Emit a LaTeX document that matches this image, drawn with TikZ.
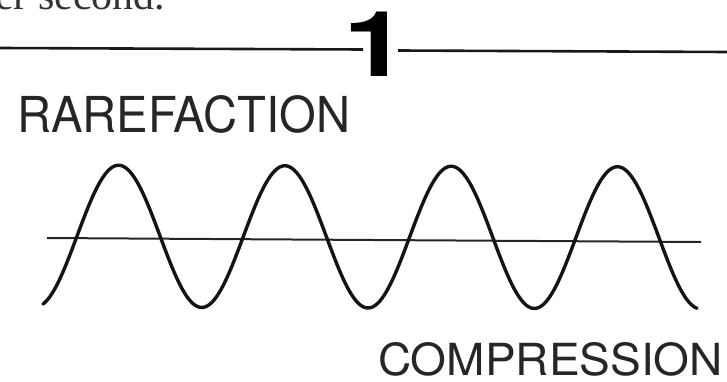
\documentclass[tikz,border=0pt]{standalone}
\usepackage{fontspec}
\setmainfont{Liberation Serif}
\newfontfamily\heros{TeX Gyre Heros}
\usepackage{graphicx}
\tikzset{
  rule/.style={line width=2.6pt, black!90},
  wave/.style={line width=3.4pt, black!92, line cap=round, line join=round},
  axisline/.style={line width=2pt, black!85},
  label/.style={inner sep=0pt, outer sep=0pt, text=black!85},
}
\begin{document}
\begin{tikzpicture}[x=1pt,y=-1pt]
\useasboundingbox (0,0) rectangle (727,382);
\begin{scope}
\clip (0,0) rectangle (727,382);
% cut-off running text at top
\node[label, anchor=base west, font=\fontsize{42}{46}\selectfont, text=black!80] (txt) at (-5,10) {er second.};
% header rule with number
\node[label, anchor=base, font=\heros\bfseries\fontsize{91}{91}\selectfont, text=black] (num) at (376,77) {\scalebox{1.28}[1]{1}};
\coordinate (rl0) at (0,48);
\coordinate (rl1) at (363,49.5);
\coordinate (rr0) at (398,50.5);
\coordinate (rr1) at (727,52);
\draw[rule] (rl0) -- (rl1);
\draw[rule] (rr0) -- (rr1);
% labels
\node[label, anchor=north west] (rare) at (17,95) {\resizebox{333pt}{37pt}{\heros RAREFACTION}};
\node[label, anchor=north west] (comp) at (378,342) {\resizebox{345pt}{33pt}{\heros COMPRESSION}};
% axis
\coordinate (a0) at (47,238);
\coordinate (a1) at (701,242);
\draw[axisline] (a0) -- (a1);
% wave
\draw[wave] plot[domain=43:697, samples=300, smooth] (\x, {236 + 0.003*(\x-43) - 71*sin((\x-77)/166.3*360)});
\end{scope}
\end{tikzpicture}
\end{document}
